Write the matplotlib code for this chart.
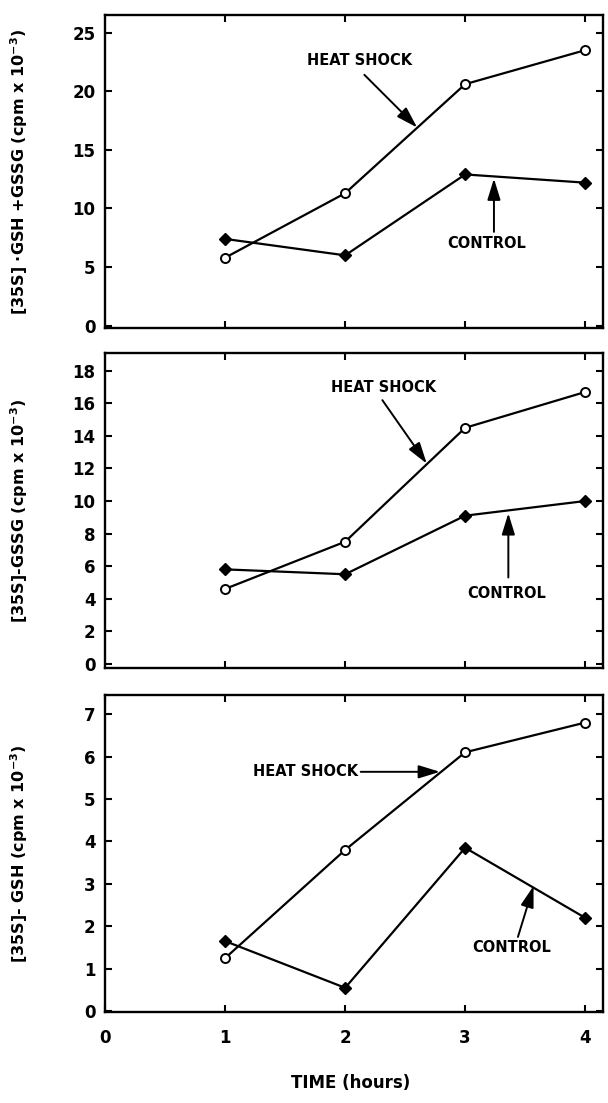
import matplotlib
matplotlib.use("Agg")
import matplotlib.pyplot as plt

plt.rcParams["font.family"] = ["DejaVu Sans"]
plt.rcParams["font.weight"] = "bold"

hours = [1, 2, 3, 4]

# [35S]-GSH + GSSG
total_heat = [5.8, 11.3, 20.6, 23.5]
total_ctrl = [7.4, 6.0, 12.9, 12.2]

# [35S]-GSSG
gssg_heat = [4.6, 7.5, 14.5, 16.7]
gssg_ctrl = [5.8, 5.5, 9.1, 10.0]

# [35S]-GSH
gsh_heat = [1.25, 3.8, 6.1, 6.8]
gsh_ctrl = [1.65, 0.55, 3.85, 2.2]

panels = [
    dict(heat=total_heat, ctrl=total_ctrl, ylim=(-0.2, 26.5), yticks=range(0, 26, 5),
         ylabel="[35S] $\\cdot$GSH +GSSG (cpm x 10$^{-3}$)",
         hs_text=(2.12, 22.6), hs_tail=(2.16, 21.4), hs_head=(2.6, 16.9),
         c_text=(3.18, 7.05), c_tail=(3.24, 8.0), c_head=(3.24, 12.55)),
    dict(heat=gssg_heat, ctrl=gssg_ctrl, ylim=(-0.26, 19.1), yticks=range(0, 19, 2),
         ylabel="[35S]-GSSG (cpm x 10$^{-3}$)",
         hs_text=(2.32, 17.0), hs_tail=(2.31, 16.2), hs_head=(2.68, 12.3),
         c_text=(3.35, 4.3), c_tail=(3.36, 5.3), c_head=(3.36, 9.25)),
    dict(heat=gsh_heat, ctrl=gsh_ctrl, ylim=(-0.02, 7.45), yticks=range(0, 8, 1),
         ylabel="[35S]- GSH (cpm x 10$^{-3}$)",
         hs_text=(1.67, 5.64), hs_tail=(2.13, 5.64), hs_head=(2.79, 5.64),
         c_text=(3.39, 1.51), c_tail=(3.44, 1.75), c_head=(3.57, 2.95)),
]

fig = plt.figure(figsize=(6.08, 11.03), dpi=100)
boxes = [
    [0.173, 0.7026, 0.819, 0.2838],
    [0.173, 0.3944, 0.819, 0.2856],
    [0.173, 0.0825, 0.819, 0.2874],
]

for i, (p, box) in enumerate(zip(panels, boxes)):
    ax = fig.add_axes(box)
    ax.plot(hours, p["heat"], color="black", lw=1.6, marker="o", ms=6.5,
            mfc="white", mec="black", mew=1.4, zorder=3)
    ax.plot(hours, p["ctrl"], color="black", lw=1.6, marker="D", ms=6.5,
            mfc="black", mec="black", zorder=3)
    ax.set_xlim(0, 4.15)
    ax.set_ylim(*p["ylim"])
    ax.set_yticks(list(p["yticks"]))
    ax.set_xticks([0, 1, 2, 3, 4] if i == 2 else [1, 2, 3, 4])
    ax.tick_params(direction="in", top=True, right=True, length=5, width=1.5,
                   labelsize=12, pad=7)
    if i < 2:
        ax.tick_params(axis="x", labelbottom=False)
    else:
        ax.tick_params(axis="x", pad=12)
    for s in ax.spines.values():
        s.set_linewidth(1.7)
    ax.set_ylabel(p["ylabel"], fontsize=11.5, fontweight="bold")
    ax.yaxis.set_label_coords(-0.15, 0.5)

    arrow = dict(arrowstyle="-|>,head_length=1.3,head_width=0.4", color="black",
                 lw=1.4, shrinkA=0, shrinkB=0)
    ax.text(*p["hs_text"], "HEAT SHOCK", fontsize=10.5, fontweight="bold",
            ha="center", va="center")
    ax.annotate("", xy=p["hs_head"], xytext=p["hs_tail"], arrowprops=arrow)
    ax.text(*p["c_text"], "CONTROL", fontsize=10.5, fontweight="bold",
            ha="center", va="center")
    ax.annotate("", xy=p["c_head"], xytext=p["c_tail"], arrowprops=arrow)

fig.text(0.576, 0.018, "TIME (hours)", fontsize=12, fontweight="bold",
         ha="center", va="center")

fig.savefig("out.png", dpi=100)
